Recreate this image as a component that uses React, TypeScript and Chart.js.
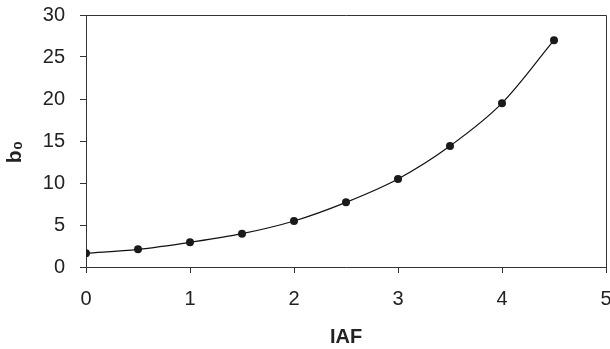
import React, { useEffect, useRef } from "react";
import { Chart, registerables } from "chart.js";

Chart.register(...registerables);

const iafValues = [0, 0.5, 1, 1.5, 2, 2.5, 3, 3.5, 4, 4.5];
const b0Values = [1.63, 2.1, 2.94, 3.97, 5.48, 7.7, 10.48, 14.4, 19.5, 27.0];
const xTitle = "IAF";
const yTitle = "b₀";
const xRange = [0, 5];
const yRange = [0, 30];

const FONT = "'Liberation Sans', Arial, Helvetica, sans-serif";
const AXIS_COLOR = "#333333";
const TEXT_COLOR = "#222222";

const framePlugin = {
  id: "frameAndTitles",
  beforeDatasetsDraw(chart: any) {
    const { ctx, chartArea } = chart;
    const { left, right, top, bottom } = chartArea;
    ctx.save();
    ctx.strokeStyle = AXIS_COLOR;
    ctx.lineWidth = 1;
    ctx.beginPath();
    ctx.moveTo(Math.round(left), Math.round(top) + 0.5);
    ctx.lineTo(Math.round(right) + 0.5, Math.round(top) + 0.5);
    ctx.lineTo(Math.round(right) + 0.5, Math.round(bottom));
    ctx.stroke();
    ctx.restore();
  },
  afterDraw(chart: any) {
    const { ctx, chartArea } = chart;
    const { left, right, top, bottom } = chartArea;
    ctx.save();
    ctx.fillStyle = TEXT_COLOR;
    ctx.font = `bold 20px ${FONT}`;
    ctx.textAlign = "center";
    ctx.textBaseline = "middle";
    ctx.fillText(xTitle, (left + right) / 2, bottom + 70);
    ctx.translate(left - 71, (top + bottom) / 2 + 11);
    ctx.rotate(-Math.PI / 2);
    ctx.font = `bold 21px ${FONT}`;
    ctx.fillText(yTitle, 0, 0);
    ctx.restore();
  },
};

export default function App() {
  const canvasRef = useRef<HTMLCanvasElement | null>(null);

  useEffect(() => {
    const canvas = canvasRef.current;
    if (!canvas) return;
    const data = iafValues.map((x, i) => ({ x, y: b0Values[i] }));
    const chart = new Chart(canvas, {
      type: "line",
      data: {
        datasets: [
          {
            data,
            borderColor: "#111111",
            borderWidth: 1.2,
            backgroundColor: "#1a1a1a",
            pointBackgroundColor: "#1a1a1a",
            pointBorderColor: "#1a1a1a",
            pointRadius: 4,
            pointBorderWidth: 0,
            cubicInterpolationMode: "monotone",
            fill: false,
          },
        ],
      },
      options: {
        responsive: false,
        animation: false,
        devicePixelRatio: 1,
        layout: { padding: { top: 15, right: 2, left: 0, bottom: 0 } },
        plugins: {
          legend: { display: false },
          tooltip: { enabled: false },
          title: { display: false },
        },
        scales: {
          x: {
            type: "linear",
            min: xRange[0],
            max: xRange[1],
            ticks: {
              stepSize: 1,
              padding: 14,
              color: TEXT_COLOR,
              font: { family: FONT, size: 20 },
            },
            grid: {
              display: true,
              drawOnChartArea: false,
              drawTicks: true,
              tickLength: 6,
              color: AXIS_COLOR,
            },
            border: { display: true, color: AXIS_COLOR, width: 1 },
            afterFit(scale: any) {
              scale.height = 82;
              scale.paddingLeft = 0;
              scale.paddingRight = 0;
            },
          },
          y: {
            type: "linear",
            min: yRange[0],
            max: yRange[1],
            ticks: {
              stepSize: 5,
              padding: 15,
              color: TEXT_COLOR,
              font: { family: FONT, size: 20 },
            },
            grid: {
              display: true,
              drawOnChartArea: false,
              drawTicks: true,
              tickLength: 6,
              color: AXIS_COLOR,
            },
            border: { display: true, color: AXIS_COLOR, width: 1 },
            afterFit(scale: any) {
              scale.width = 86;
              scale.paddingTop = 0;
              scale.paddingBottom = 0;
            },
          },
        },
      },
      plugins: [framePlugin],
    });
    return () => chart.destroy();
  }, []);

  return (
    <div style={{ position: "absolute", left: 0, top: 0, width: 610, height: 349, background: "#fff" }}>
      <canvas ref={canvasRef} width={610} height={349} />
    </div>
  );
}
